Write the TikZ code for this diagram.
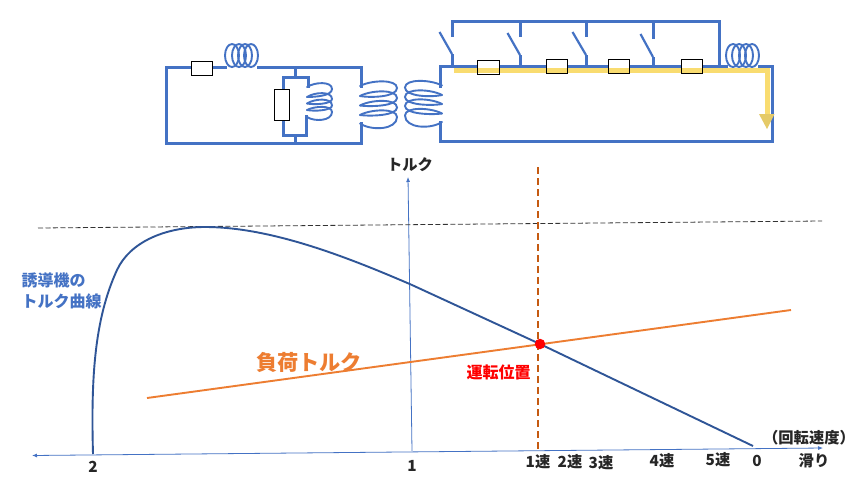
\documentclass[tikz,border=0pt]{standalone}
\usepackage{fontspec}
\setmainfont{Noto Sans CJK JP}
\usetikzlibrary{arrows.meta}
\definecolor{wire}{HTML}{4472C4}
\definecolor{curve}{HTML}{2F5597}
\definecolor{yel}{HTML}{F9DC70}
\definecolor{org}{HTML}{ED7D31}
\definecolor{rust}{HTML}{C55A11}
\tikzset{
 wireline/.style={draw=wire,line width=3pt,line cap=rect},
 coilline/.style={draw=wire,line width=1.9pt},
 resistor/.style={draw=black,line width=0.9pt,minimum width=#1,inner sep=0pt},
 lab/.style={font=\fontsize{15.3}{17}\selectfont\bfseries,text=black!85,inner sep=0pt},
 axisline/.style={draw=wire,line width=0.8pt}
}
% one helix turn: wire side x, far side x, left point y, back rise, front drop, end y
\newcommand{\helixturn}[6]{%
 \draw[coilline,line cap=round] (#1,#3) .. controls ({#1+(#2-#1)*0.3},{#3-#4}) and (#2,{#3-#4-1}) .. (#2,{#3+2})
 .. controls (#2,{#3+#5}) and ({#1+(#2-#1)*0.3},{#3+#5+1}) .. (#1,#6);}
\begin{document}
\begin{tikzpicture}[x=1pt,y=-1pt]
\useasboundingbox[fill=white] (0,0) rectangle (853,480);
% left circuit
\draw[wireline] (225,67) -- (166,67) -- (166,143) -- (361,143) -- (361,123);
\draw[wireline] (258,67) -- (361,67) -- (361,86);
\draw[wireline] (295,67) -- (295,77);
\draw[wireline] (308,86) -- (308,77) -- (283,77) -- (283,135) -- (306,135) -- (306,116);
\draw[wireline] (295,135) -- (295,143);
\foreach \cx in {232,239,245,251} \draw[coilline] (\cx,55.5) ellipse [x radius=7,y radius=11.5];
\helixturn{307}{332}{87}{5}{9}{97}
\helixturn{307}{332}{97}{5}{7}{103.5}
\helixturn{307}{332}{103.5}{5}{7}{110}
\helixturn{307}{332}{110}{4}{11}{117}
\helixturn{360}{397}{86}{6}{11}{96}
\helixturn{360}{397}{96}{6}{10}{105.5}
\helixturn{360}{397}{105.5}{6}{10}{115}
\helixturn{360}{397}{115}{6}{15}{123.5}
\helixturn{442}{405}{85.5}{6}{11}{95}
\helixturn{442}{405}{95}{6}{10}{104}
\helixturn{442}{405}{104}{6}{10}{113.5}
\helixturn{442}{405}{113.5}{6}{15}{122}
% right circuit
\draw[wireline] (440,86) -- (440,66.5) -- (726,66.5);
\draw[wireline] (759,66.5) -- (772,66.5) -- (772,141) -- (440,141) -- (440,122);
\draw[wireline] (452,35) -- (452,21) -- (719,21) -- (719,66);
\draw[wireline] (520,21) -- (520,35);
\draw[wireline] (586,21) -- (586,35);
\draw[wireline] (653,21) -- (653,37);
\draw[wire,line width=2.2pt] (439.5,32) -- (452,54);
\draw[wire,line width=2.2pt] (507.5,33) -- (520,55);
\draw[wire,line width=2.2pt] (572.5,32) -- (586,55);
\draw[wire,line width=2.2pt] (640.5,34) -- (653,57);
\draw[wireline] (452,55) -- (452,66);
\draw[wireline] (520,56) -- (520,66);
\draw[wireline] (586,56) -- (586,66);
\draw[wireline] (653,58) -- (653,66);
\foreach \cx in {733,739,746,752} \draw[coilline] (\cx,55.5) ellipse [x radius=7,y radius=11.5];
% resistors
\node[resistor=21pt,minimum height=14.5pt,fill=white] (r1) at (201.5,68.5) {};
\node[resistor=15pt,minimum height=31pt,fill=white] (r2) at (281.5,104.5) {};
\node[resistor=22pt,fill=white,minimum height=14pt] (r3) at (488.5,67) {};
\node[resistor=21pt,fill=white,minimum height=14pt] (r4) at (556.5,66) {};
\node[resistor=21pt,fill=white,minimum height=14pt] (r5) at (618.5,66) {};
\node[resistor=21pt,fill=white,minimum height=14pt] (r6) at (691.5,66) {};
% yellow flow
\draw[yel,line width=5pt] (454,70.5) -- (767,70.5) -- (767,115);
\fill[yel!92!black] (759,114) -- (774.5,114) -- (767,129) -- cycle;
\node[resistor=22pt,minimum height=14pt] at (r3) {};
\node[resistor=21pt,minimum height=14pt] at (r4) {};
\node[resistor=21pt,minimum height=14pt] at (r5) {};
\node[resistor=21pt,minimum height=14pt] at (r6) {};
% graph
\coordinate (xl) at (32,455.5);
\coordinate (xr) at (823,448);
\coordinate (yb) at (412,451);
\coordinate (yt) at (408,177);
\coordinate (dl) at (38,228);
\coordinate (dr) at (822,221);
\coordinate (rt) at (538,167);
\coordinate (rb) at (538,449);
\coordinate (ol) at (147,398);
\coordinate (or) at (791,310);
\draw[axisline,{Latex[length=5pt,width=4pt]}-{Latex[length=5pt,width=4pt]}] (xl) -- (xr);
\draw[axisline,-{Latex[length=5pt,width=4pt]}] (yb) -- (yt);
\draw[black!80,line width=0.8pt,dash pattern=on 5pt off 2.5pt] (dl) -- (dr);
\draw[rust,line width=1.7pt,dash pattern=on 7pt off 4pt] (rt) -- (rb);
\draw[org,line width=1.9pt] (ol) -- (or);
\draw[curve,line width=1.9pt] (93,454) .. controls (91,380) and (94,320) .. (117,270)
 .. controls (130,242) and (165,227) .. (205,227)
 .. controls (270,227) and (345,256) .. (412,285)
 -- (540,344) -- (753,446);
\node[circle,fill=red,minimum size=10.5pt,inner sep=0pt] (pt) at (540,344) {};
% labels
\node[lab] (lt) at (410,165) {トルク};
\node[lab,text=wire,align=left,anchor=west,font=\fontsize{16}{21}\selectfont\bfseries] (lc) at (21.5,291) {誘導機の\\トルク曲線};
\node[lab,text=org,font=\fontsize{21.2}{23}\selectfont\bfseries] (ll) at (309,362) {負荷トルク};
\node[lab,text=red,font=\fontsize{16}{18}\selectfont\bfseries] (lo) at (498.5,372) {運転位置};
\node[lab] at (93,467) {2};
\node[lab] at (412,466) {1};
\node[lab] at (538,462) {1速};
\node[lab] at (570,462) {2速};
\node[lab] at (601,463) {3速};
\node[lab] at (662,461) {4速};
\node[lab] at (718,460) {5速};
\node[lab] at (757,461) {0};
\node[lab] at (814,461) {滑り};
\node[lab] at (809,438) {（回転速度）};
\end{tikzpicture}
\end{document}
